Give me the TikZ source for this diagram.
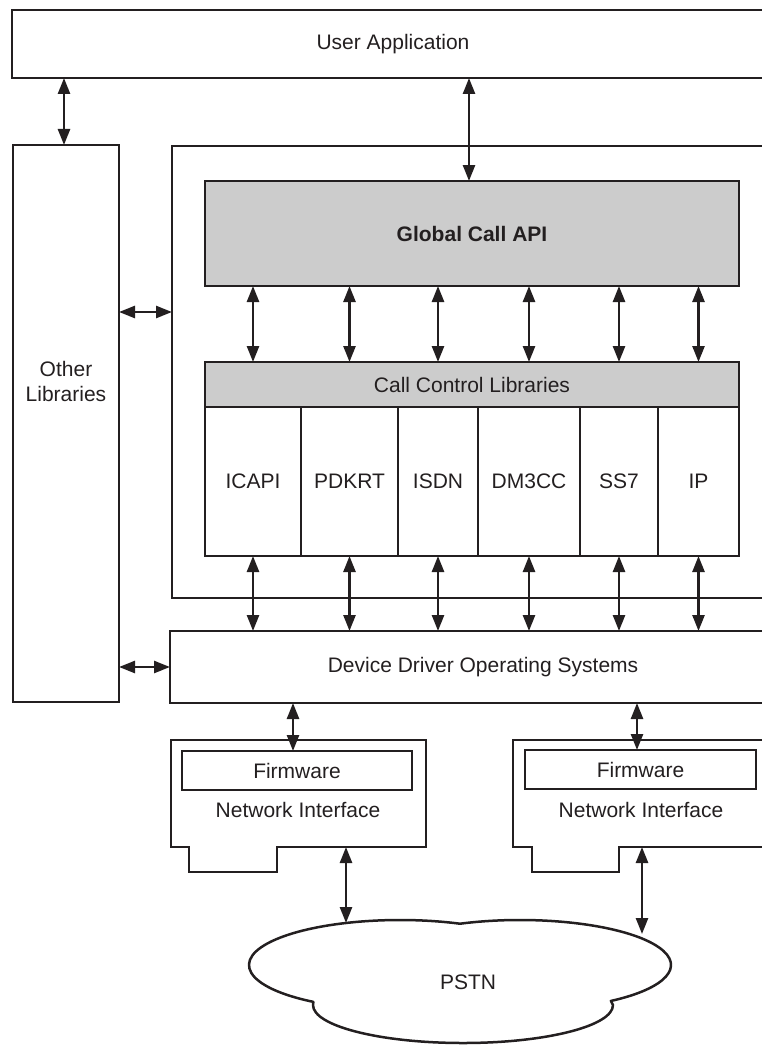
\documentclass[tikz,border=0pt]{standalone}
\usepackage{fontspec}
\setmainfont{Liberation Sans}
\usetikzlibrary{arrows.meta}
\definecolor{ink}{HTML}{231F20}
\definecolor{panel}{HTML}{CCCCCC}
\tikzset{
  box/.style={draw=ink, line width=2.5pt, inner sep=0pt, outer sep=0pt,
    anchor=north west, text=ink, font=\fontsize{21}{25}\selectfont},
  shade/.style={box, fill=panel},
  lbl/.style={inner sep=0pt, text=ink, align=center, font=\fontsize{21}{25}\selectfont},
  biarrow/.style={draw=ink, line width=2.5pt,
    {Triangle[length=16pt,width=12pt]}-{Triangle[length=16pt,width=12pt]}},
  outline/.style={draw=ink, line width=2.5pt, line join=miter},
}
\begin{document}
\begin{tikzpicture}[x=1pt, y=1pt]
\useasboundingbox (0,0) rectangle (762,-1046);
\clip (0,0) rectangle (762,-1046);

% top layer and side column
\node[box, minimum width=762pt, minimum height=68pt] (ua) at (12,-10) {User Application};
\node[box, minimum width=106pt, minimum height=557pt] (ol) at (13,-145) {};
\node[lbl] (oltext) at (66,-381) {Other\\Libraries};

% call control frame
\node[box, minimum width=620pt, minimum height=452pt] (frame) at (172,-146) {};
\node[shade, minimum width=534pt, minimum height=105pt,
      font=\fontsize{21}{25}\selectfont\bfseries] (gca) at (205,-181) {Global Call API};
\node[shade, minimum width=534pt, minimum height=45pt] (ccl) at (205,-362) {Call Control Libraries};
\node[box, minimum width=96pt,  minimum height=149pt] (icapi) at (205,-407) {ICAPI};
\node[box, minimum width=97pt,  minimum height=149pt] (pdkrt) at (301,-407) {PDKRT};
\node[box, minimum width=80pt,  minimum height=149pt] (isdn)  at (398,-407) {ISDN};
\node[box, minimum width=102pt, minimum height=149pt] (dm3cc) at (478,-407) {DM3CC};
\node[box, minimum width=78pt,  minimum height=149pt] (ss7)   at (580,-407) {SS7};
\node[box, minimum width=81pt,  minimum height=149pt] (ip)    at (658,-407) {IP};

% driver layer
\node[box, minimum width=626pt, minimum height=72pt] (ddos) at (170,-631) {Device Driver Operating Systems};

% network interface boards
\node[inner sep=0pt, outer sep=0pt, anchor=north west, minimum width=255pt, minimum height=107pt] (ni1) at (171,-740) {};
\draw[outline] (ni1.north west) -- (ni1.north east) -- (ni1.south east)
  -- ++(-149,0) -- ++(0,-25) -- ++(-88,0) -- ++(0,25) -- (ni1.south west) -- cycle;
\node[box, minimum width=230pt, minimum height=39pt] (fw1) at (182,-751) {Firmware};
\node[lbl] (ni1text) at (298,-810) {Network Interface};

\node[inner sep=0pt, outer sep=0pt, anchor=north west, minimum width=256pt, minimum height=107pt] (ni2) at (513,-740) {};
\draw[outline] (ni2.north west) -- (ni2.north east) -- (ni2.south east)
  -- ++(-150,0) -- ++(0,-25) -- ++(-87,0) -- ++(0,25) -- (ni2.south west) -- cycle;
\node[box, minimum width=231pt, minimum height=39pt] (fw2) at (525,-750) {Firmware};
\node[lbl] (ni2text) at (641,-810) {Network Interface};

% PSTN cloud: two upper lobes and one lower lobe
\draw[outline, line join=round]
  ([shift={(400,-965)}]235:151pt and 45pt)
    arc[start angle=235, end angle=67, x radius=151pt, y radius=45pt]
  -- ([shift={(520,-965)}]113:151pt and 45pt)
    arc[start angle=113, end angle=-53, x radius=151pt, y radius=45pt]
  -- ([shift={(463,-1005)}]0:150pt and 38pt)
    arc[start angle=0, end angle=-180, x radius=150pt, y radius=38pt]
  -- cycle;
\node[lbl] (pstn) at (468,-982) {PSTN};
\coordinate (cloudL) at (346,-923);
\coordinate (cloudR) at (642,-934);

% connector columns
\coordinate (xol) at (64,0);
\coordinate (xua) at (469,0);
\coordinate (xd1) at (293,0);
\coordinate (xd2) at (637,0);
\coordinate (ylink) at (0,-312);

\draw[biarrow] (ua.south -| xol) -- (ol.north -| xol);
\draw[biarrow] (ua.south -| xua) -- (gca.north -| xua);
\draw[biarrow] (ol.east |- ylink) -- (frame.west |- ylink);
\draw[biarrow] (ol.east |- ddos.west) -- (ddos.west);

\foreach \lib in {icapi, pdkrt, isdn, dm3cc, ss7, ip} {
  \draw[biarrow] (gca.south -| \lib.south) -- (ccl.north -| \lib.south);
  \draw[biarrow] (\lib.south) -- (ddos.north -| \lib.south);
}

\draw[biarrow] (ddos.south -| xd1) -- (fw1.north -| xd1);
\draw[biarrow] (ddos.south -| xd2) -- (fw2.north -| xd2);
\draw[biarrow] (ni1.south -| cloudL) -- (cloudL);
\draw[biarrow] (ni2.south -| cloudR) -- (cloudR);
\end{tikzpicture}
\end{document}
